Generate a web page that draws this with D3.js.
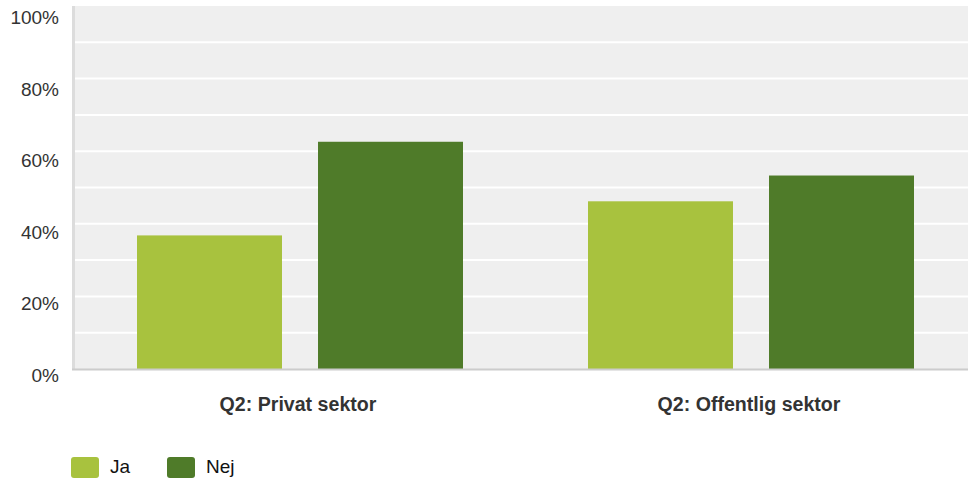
<!DOCTYPE html>
<html>
<head>
<meta charset="utf-8">
<script src="https://cdn.jsdelivr.net/npm/d3@7"></script>
<style>
  html, body { margin: 0; padding: 0; background: #fff; }
  svg { display: block; font-family: "Liberation Sans", Arial, sans-serif; }
</style>
</head>
<body>
<div id="chart"></div>
<script>
const categories = ['Q2: Privat sektor', 'Q2: Offentlig sektor'];
const series = ['Ja', 'Nej'];
const jaValues = [36.8, 46.2];
const nejValues = [62.6, 53.3];
const tickValues = [0, 20, 40, 60, 80, 100];
const gridValues = d3.range(0, 101, 10);
const colors = ['#a8c23e', '#4f7b29'];

const w = 968;
const h = 482;
const plotLeft = 72;
const plotTop = 6;
const plotBottom = 369;

const svg = d3.select('#chart')
              .append('svg')
              .attr('width', w)
              .attr('height', h);

const yScale = d3.scaleLinear()
                 .domain([0, 100])
                 .range([plotBottom, plotTop]);

// labels sit on a slightly tighter spacing than the grid
const yLabel = d3.scaleLinear()
                 .domain([0, 100])
                 .range([382, 24]);

const x0 = d3.scaleBand()
             .domain(categories)
             .range([74.5, 976.5]);

const x1 = d3.scaleBand()
             .domain(series)
             .range([0, x0.bandwidth()])
             .paddingInner(0.199)
             .paddingOuter(0.3453);

// plot background
svg.append('rect')
   .attr('x', plotLeft)
   .attr('y', plotTop)
   .attr('width', w - plotLeft)
   .attr('height', plotBottom - plotTop)
   .attr('fill', '#efefef');

svg.append('rect')
   .attr('x', plotLeft)
   .attr('y', plotTop)
   .attr('width', 3)
   .attr('height', plotBottom - plotTop)
   .attr('fill', '#dcdcdc');

// grid
svg.append('g')
   .selectAll('line')
   .data(gridValues.filter(d => d > 0 && d < 100))
   .enter()
   .append('line')
   .attr('x1', plotLeft + 3)
   .attr('x2', w)
   .attr('y1', d => yScale(d))
   .attr('y2', d => yScale(d))
   .attr('stroke', '#ffffff')
   .attr('stroke-width', 2);

// bars
const rows = categories.map((c, i) => ({ cat: c, values: [jaValues[i], nejValues[i]] }));

svg.append('g')
   .selectAll('g')
   .data(rows)
   .enter()
   .append('g')
   .attr('transform', d => `translate(${x0(d.cat)},0)`)
   .selectAll('rect')
   .data(d => d.values.map((v, j) => ({ key: series[j], value: v, color: colors[j] })))
   .enter()
   .append('rect')
   .attr('x', d => x1(d.key))
   .attr('y', d => yScale(d.value))
   .attr('width', x1.bandwidth())
   .attr('height', d => yScale(0) - yScale(d.value))
   .attr('fill', d => d.color);

// bottom border
svg.append('rect')
   .attr('x', plotLeft)
   .attr('y', plotBottom - 0.5)
   .attr('width', w - plotLeft)
   .attr('height', 2)
   .attr('fill', '#cccccc');

// y labels
svg.append('g')
   .selectAll('text')
   .data(tickValues)
   .enter()
   .append('text')
   .attr('x', 59)
   .attr('y', d => yLabel(d))
   .attr('text-anchor', 'end')
   .attr('font-size', 19)
   .attr('fill', '#333')
   .text(d => d + '%');

// category labels
svg.append('g')
   .selectAll('text')
   .data(categories)
   .enter()
   .append('text')
   .attr('x', d => x0(d) + x0.bandwidth() / 2 - 2)
   .attr('y', 411)
   .attr('text-anchor', 'middle')
   .attr('font-size', 19.6)
   .attr('font-weight', 'bold')
   .attr('fill', '#333')
   .text(d => d);

// legend
const legend = svg.append('g')
                  .selectAll('g')
                  .data(series)
                  .enter()
                  .append('g')
                  .attr('transform', (d, i) => `translate(${71 + i * 96},457)`);

legend.append('rect')
      .attr('width', 28)
      .attr('height', 21)
      .attr('rx', 3)
      .attr('fill', (d, i) => colors[i]);

legend.append('text')
      .attr('x', 39)
      .attr('y', 16)
      .attr('font-size', 19)
      .attr('fill', '#111')
      .text(d => d);
</script>
</body>
</html>
